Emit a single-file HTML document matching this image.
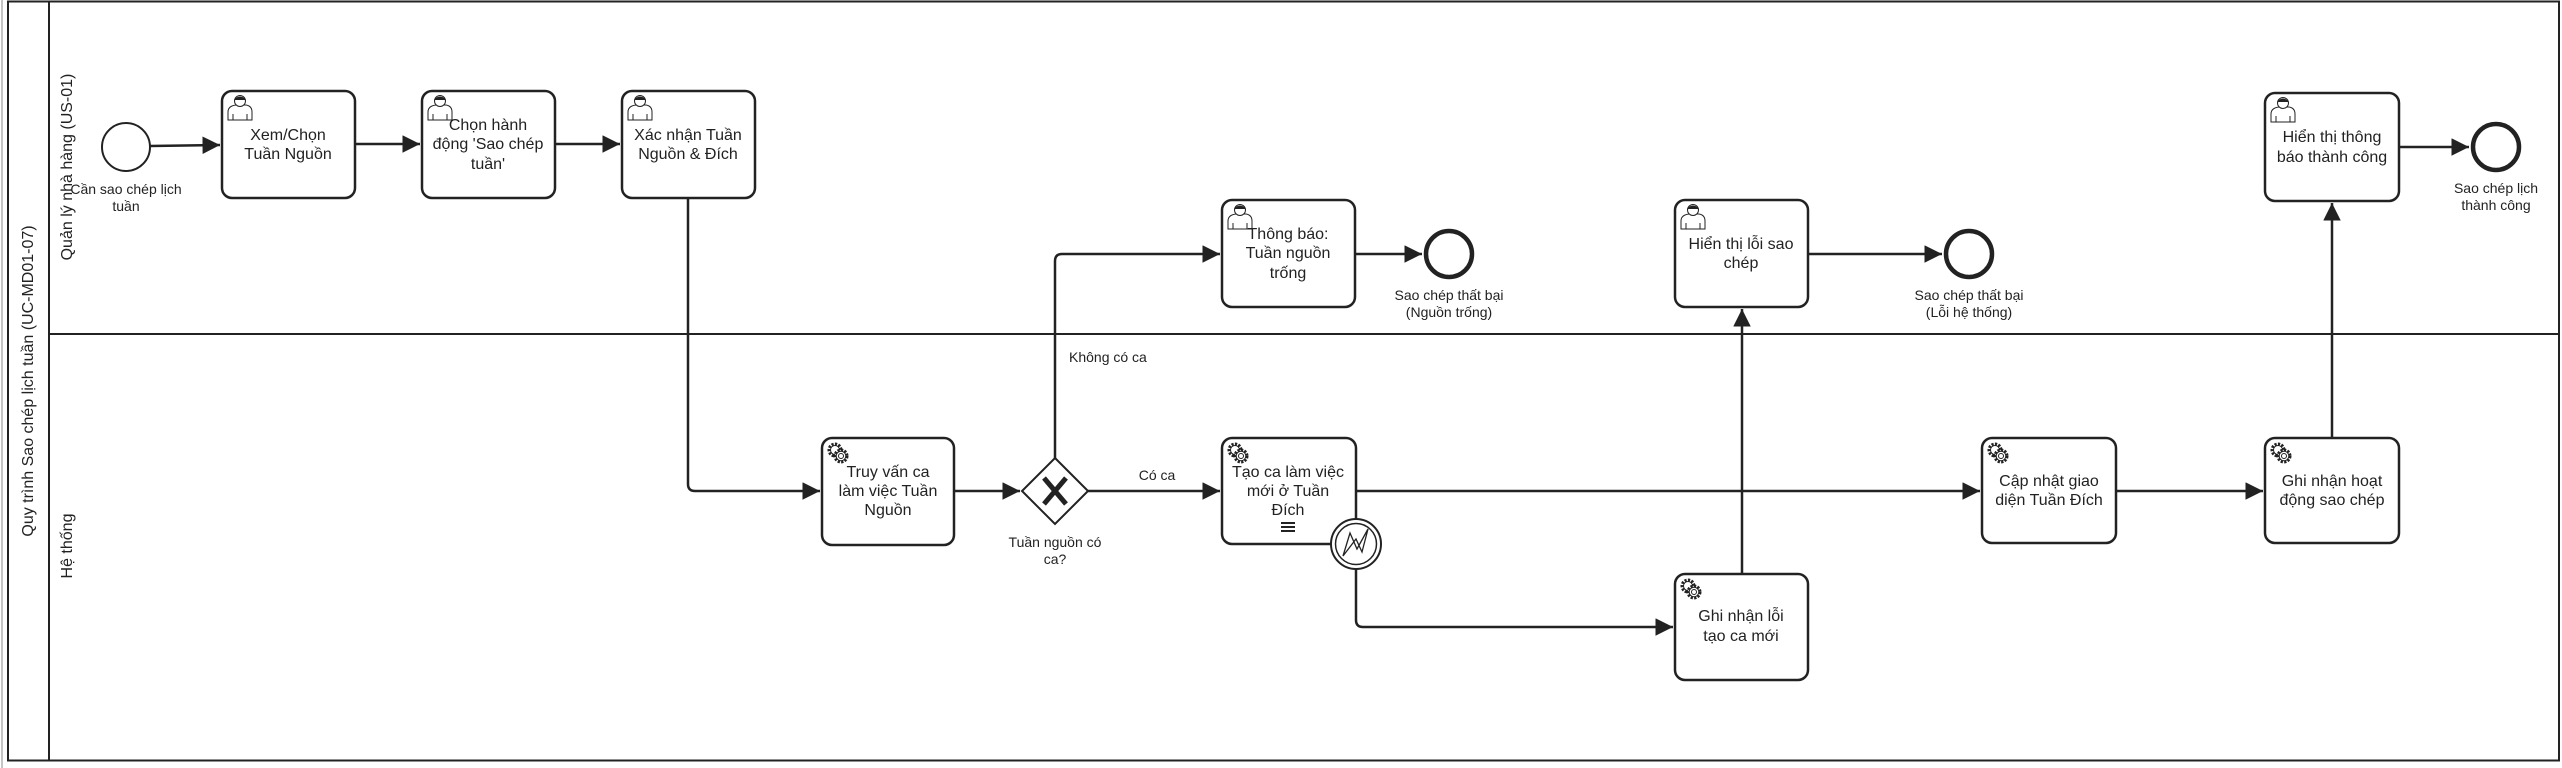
<!DOCTYPE html>
<html><head><meta charset="utf-8"><style>
html,body{margin:0;padding:0;background:#fff;}
svg{display:block;}
text{font-family:"Liberation Sans","DejaVu Sans",sans-serif;fill:#222;}
.t{font-size:16px;text-anchor:middle;}
.l{font-size:14px;text-anchor:middle;}
.box{fill:#fff;stroke:#222;stroke-width:2.5;}
.fl{fill:none;stroke:#222;stroke-width:2.5;}
</style></head><body>
<svg width="2562" height="768" viewBox="0 0 2562 768" xmlns="http://www.w3.org/2000/svg">
<defs>
<marker id="a" viewBox="0 0 10 10" refX="10" refY="5" markerWidth="7" markerHeight="7" markerUnits="strokeWidth" orient="auto">
<path d="M0,0 L10,5 L0,10 z" fill="#222"/></marker>
<g id="user" fill="#fff" stroke="#222" stroke-width="1">
<path d="M2,26 L2,18 Q2,12 10,11 L20,11 Q26,12 26,18 L26,26 Z"/>
<circle cx="14" cy="7" r="5.5"/>
<path d="M8.5,6 Q14,0 19.5,6" fill="#222"/>
<line x1="7" y1="20" x2="7" y2="26"/><line x1="21" y1="20" x2="21" y2="26"/>
</g>
<g id="gear" fill="#fff" stroke="#222" stroke-width="1">
<circle cx="9" cy="9" r="6" stroke-dasharray="2.2 1.3" stroke-width="3"/>
<circle cx="9" cy="9" r="4.5"/>
<circle cx="15" cy="15" r="6" stroke-dasharray="2.2 1.3" stroke-width="3"/>
<circle cx="15" cy="15" r="4.8"/>
<circle cx="15" cy="15" r="2.5"/>
</g>
</defs>
<rect x="0" y="0" width="2562" height="768" fill="#fff"/>
<!-- pool -->
<rect x="8" y="1.5" width="2551" height="759" fill="none" stroke="#222" stroke-width="2"/>
<line x1="2" y1="0" x2="2" y2="768" stroke="#888" stroke-width="1"/>
<line x1="49" y1="1.5" x2="49" y2="760.5" stroke="#222" stroke-width="2"/>
<line x1="49" y1="334" x2="2559" y2="334" stroke="#222" stroke-width="2"/>
<text class="t" transform="translate(33,381) rotate(-90)" font-size="16">Quy trình Sao chép lịch tuần (UC-MD01-07)</text>
<text class="t" transform="translate(72,167) rotate(-90)">Quản lý nhà hàng (US-01)</text>
<text class="t" transform="translate(72,546) rotate(-90)">Hệ thống</text>

<!-- connectors -->
<path class="fl" d="M150,146 L220,145" marker-end="url(#a)"/>
<path class="fl" d="M355,144 L420,144" marker-end="url(#a)"/>
<path class="fl" d="M555,144 L620,144" marker-end="url(#a)"/>
<path class="fl" d="M688,198 L688,484 Q688,491 695,491 L820,491" marker-end="url(#a)"/>
<path class="fl" d="M954,491 L1020,491" marker-end="url(#a)"/>
<path class="fl" d="M1088,491 L1220,491" marker-end="url(#a)"/>
<path class="fl" d="M1055,458 L1055,261 Q1055,254 1062,254 L1220,254" marker-end="url(#a)"/>
<path class="fl" d="M1354,254 L1422,254" marker-end="url(#a)"/>
<path class="fl" d="M1356,491 L1980,491" marker-end="url(#a)"/>
<path class="fl" d="M1356,569 L1356,620 Q1356,627 1363,627 L1673,627" marker-end="url(#a)"/>
<path class="fl" d="M1742,574 L1742,309" marker-end="url(#a)"/>
<path class="fl" d="M1808,254 L1942,254" marker-end="url(#a)"/>
<path class="fl" d="M2116,491 L2263,491" marker-end="url(#a)"/>
<path class="fl" d="M2332,438 L2332,203" marker-end="url(#a)"/>
<path class="fl" d="M2399,147 L2469,147" marker-end="url(#a)"/>

<!-- events -->
<circle cx="126" cy="147" r="24" fill="#fff" stroke="#222" stroke-width="2"/>
<text class="l" x="126" y="194">Cần sao chép lịch</text>
<text class="l" x="126" y="211">tuần</text>
<circle cx="1449" cy="254" r="23" fill="#fff" stroke="#222" stroke-width="4.5"/>
<text class="l" x="1449" y="300">Sao chép thất bại</text>
<text class="l" x="1449" y="317">(Nguồn trống)</text>
<circle cx="1969" cy="254" r="23" fill="#fff" stroke="#222" stroke-width="4.5"/>
<text class="l" x="1969" y="300">Sao chép thất bại</text>
<text class="l" x="1969" y="317">(Lỗi hệ thống)</text>
<circle cx="2496" cy="147" r="23" fill="#fff" stroke="#222" stroke-width="4.5"/>
<text class="l" x="2496" y="193">Sao chép lịch</text>
<text class="l" x="2496" y="210">thành công</text>

<!-- gateway -->
<path d="M1055,458 L1088,491 L1055,524 L1022,491 Z" fill="#fff" stroke="#222" stroke-width="2"/>
<path d="M1044,478 L1066,504 M1066,478 L1044,504" stroke="#222" stroke-width="5"/>
<text class="l" x="1055" y="547">Tuần nguồn có</text>
<text class="l" x="1055" y="564">ca?</text>
<text class="l" x="1069" y="362" text-anchor="start" style="text-anchor:start">Không có ca</text>
<text class="l" x="1157" y="480">Có ca</text>

<!-- tasks row 1 -->
<rect class="box" x="222" y="91" width="133" height="107" rx="10"/>
<use href="#user" x="226" y="94"/>
<text class="t" x="288" y="140">Xem/Chọn</text><text class="t" x="288" y="159">Tuần Nguồn</text>

<rect class="box" x="422" y="91" width="133" height="107" rx="10"/>
<use href="#user" x="426" y="94"/>
<text class="t" x="488" y="130">Chọn hành</text><text class="t" x="488" y="149">động 'Sao chép</text><text class="t" x="488" y="169">tuần'</text>

<rect class="box" x="622" y="91" width="133" height="107" rx="10"/>
<use href="#user" x="626" y="94"/>
<text class="t" x="688" y="140">Xác nhận Tuần</text><text class="t" x="688" y="159">Nguồn &amp; Đích</text>

<rect class="box" x="1222" y="200" width="133" height="107" rx="10"/>
<use href="#user" x="1226" y="203"/>
<text class="t" x="1288" y="239">Thông báo:</text><text class="t" x="1288" y="258">Tuần nguồn</text><text class="t" x="1288" y="278">trống</text>

<rect class="box" x="1675" y="200" width="133" height="107" rx="10"/>
<use href="#user" x="1679" y="203"/>
<text class="t" x="1741" y="249">Hiển thị lỗi sao</text><text class="t" x="1741" y="268">chép</text>

<rect class="box" x="2265" y="93" width="134" height="108" rx="10"/>
<use href="#user" x="2269" y="96"/>
<text class="t" x="2332" y="142">Hiển thị thông</text><text class="t" x="2332" y="162">báo thành công</text>

<!-- tasks row 2 -->
<rect class="box" x="822" y="438" width="132" height="107" rx="10"/>
<use href="#gear" x="826" y="441"/>
<text class="t" x="888" y="477">Truy vấn ca</text><text class="t" x="888" y="496">làm việc Tuần</text><text class="t" x="888" y="515">Nguồn</text>

<rect class="box" x="1222" y="438" width="134" height="106" rx="10"/>
<use href="#gear" x="1226" y="441"/>
<text class="t" x="1288" y="477">Tạo ca làm việc</text><text class="t" x="1288" y="496">mới ở Tuần</text><text class="t" x="1288" y="515">Đích</text>
<path d="M1281,523 h14 M1281,527 h14 M1281,531 h14" stroke="#222" stroke-width="2"/>
<circle cx="1356" cy="544" r="25" fill="#fff" stroke="#222" stroke-width="2"/>
<circle cx="1356" cy="544" r="20.5" fill="#fff" stroke="#222" stroke-width="1.5"/>
<path d="M1343,556 L1350,533 L1357,549 L1368,529 L1362,552 L1356,539 Z" fill="none" stroke="#222" stroke-width="1.3"/>

<rect class="box" x="1675" y="574" width="133" height="106" rx="10"/>
<use href="#gear" x="1679" y="577"/>
<text class="t" x="1741" y="621">Ghi nhận lỗi</text><text class="t" x="1741" y="641">tạo ca mới</text>

<rect class="box" x="1982" y="438" width="134" height="105" rx="10"/>
<use href="#gear" x="1986" y="441"/>
<text class="t" x="2049" y="486">Cập nhật giao</text><text class="t" x="2049" y="505">diện Tuần Đích</text>

<rect class="box" x="2265" y="438" width="134" height="105" rx="10"/>
<use href="#gear" x="2269" y="441"/>
<text class="t" x="2332" y="486">Ghi nhận hoạt</text><text class="t" x="2332" y="505">động sao chép</text>
</svg>
</body></html>
